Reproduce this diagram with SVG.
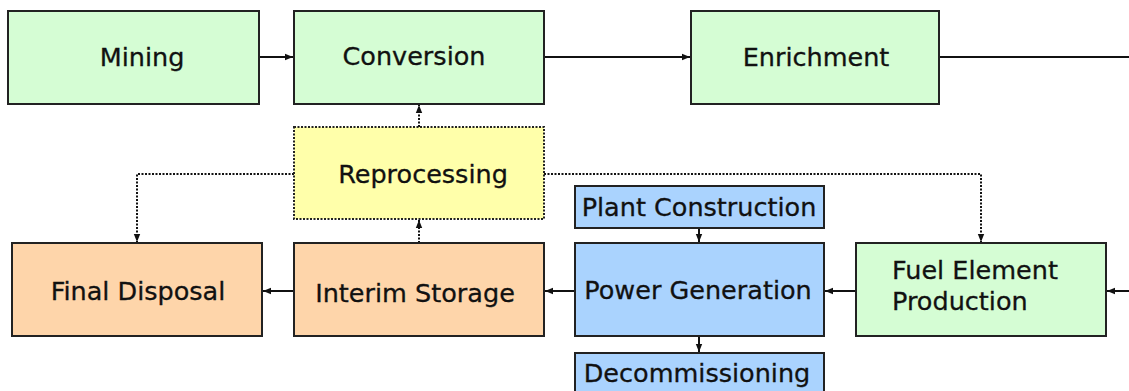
<svg xmlns="http://www.w3.org/2000/svg" width="1129" height="391" viewBox="0 0 1129 391">
  <defs>
    <marker id="arrow" viewBox="0 0 8 8" refX="8" refY="4" markerWidth="8" markerHeight="8" markerUnits="userSpaceOnUse" orient="auto">
      <path d="M0,0.8 L8,4 L0,7.2 Z" fill="#111"/>
    </marker>
    <style>
      .box { stroke: #222; stroke-width: 2; }
      .green { fill: #d5fdd4; }
      .orange { fill: #fed5aa; }
      .blue { fill: #aad3fe; }
      .yellow { fill: #ffffaa; stroke-dasharray: 2 1.5; }
      .label { font-family: "DejaVu Sans", "Liberation Sans", sans-serif; font-size: 25.5px; fill: #111; stroke: #111; stroke-width: 0.3; }
      .mid { text-anchor: middle; }
      .flow { fill: none; stroke: #111; stroke-width: 2; }
      .dot { stroke-dasharray: 2 1.5; }
    </style>
  </defs>

  <rect width="1129" height="391" fill="#ffffff"/>

  <!-- connectors -->
  <g id="connectors">
    <line class="flow" x1="259" y1="57" x2="293" y2="57" marker-end="url(#arrow)"/>
    <line class="flow" x1="545" y1="57" x2="690" y2="57" marker-end="url(#arrow)"/>
    <line class="flow" x1="940" y1="57" x2="1129" y2="57"/>
    <line class="flow" x1="1129" y1="291" x2="1107" y2="291" marker-end="url(#arrow)"/>
    <line class="flow" x1="855" y1="291" x2="825" y2="291" marker-end="url(#arrow)"/>
    <line class="flow" x1="575" y1="291" x2="545" y2="291" marker-end="url(#arrow)"/>
    <line class="flow" x1="294" y1="291" x2="263" y2="291" marker-end="url(#arrow)"/>
    <line class="flow" x1="699" y1="229" x2="699" y2="242" marker-end="url(#arrow)"/>
    <line class="flow" x1="699" y1="337" x2="699" y2="352" marker-end="url(#arrow)"/>
    <line class="flow dot" x1="419" y1="243" x2="419" y2="220" marker-end="url(#arrow)"/>
    <line class="flow dot" x1="419" y1="127" x2="419" y2="105" marker-end="url(#arrow)"/>
    <polyline class="flow dot" points="294,174 137,174 137,242" marker-end="url(#arrow)"/>
    <polyline class="flow dot" points="544,174 981,174 981,242" marker-end="url(#arrow)"/>
  </g>

  <g id="mining">
    <rect class="box green" x="8" y="11" width="251" height="93"/>
    <text class="label mid" x="142" y="66">Mining</text>
  </g>
  <g id="conversion">
    <rect class="box green" x="294" y="11" width="250" height="93"/>
    <text class="label mid" x="414" y="65">Conversion</text>
  </g>
  <g id="enrichment">
    <rect class="box green" x="691" y="11" width="248" height="93"/>
    <text class="label mid" x="816" y="66">Enrichment</text>
  </g>
  <g id="reprocessing">
    <rect class="box yellow" x="294" y="127" width="250" height="92"/>
    <text class="label mid" x="423" y="183">Reprocessing</text>
  </g>
  <g id="plant-construction">
    <rect class="box blue" x="575" y="186" width="249" height="42"/>
    <text class="label mid" x="699" y="216">Plant Construction</text>
  </g>
  <g id="final-disposal">
    <rect class="box orange" x="12" y="243" width="250" height="93"/>
    <text class="label mid" x="138" y="300">Final Disposal</text>
  </g>
  <g id="interim-storage">
    <rect class="box orange" x="294" y="243" width="250" height="93"/>
    <text class="label mid" x="415" y="302">Interim Storage</text>
  </g>
  <g id="power-generation">
    <rect class="box blue" x="575" y="243" width="249" height="93"/>
    <text class="label mid" x="698" y="299">Power Generation</text>
  </g>
  <g id="fuel-element-production">
    <rect class="box green" x="856" y="243" width="250" height="93"/>
    <text class="label" x="892" y="279">Fuel Element</text>
    <text class="label" x="892" y="310">Production</text>
  </g>
  <g id="decommissioning">
    <rect class="box blue" x="575" y="353" width="249" height="45"/>
    <text class="label mid" x="697" y="382">Decommissioning</text>
  </g>
</svg>
